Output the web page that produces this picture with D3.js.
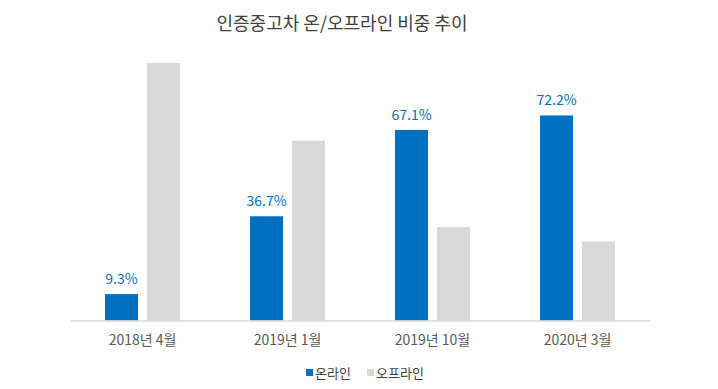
<!DOCTYPE html>
<html>
<head>
<meta charset="utf-8">
<script src="https://cdn.jsdelivr.net/npm/d3@7"></script>
<style>
  body { margin: 0; background: #fff; }
  text { font-family: "Noto Sans CJK KR", "Noto Sans", sans-serif; }
</style>
</head>
<body>
<svg id="chart" width="718" height="389"></svg>
<script>
// Data
var categories = ["2018년 4월", "2019년 1월", "2019년 10월", "2020년 3월"];
var online = [9.3, 36.7, 67.1, 72.2];
var offline = [90.7, 63.3, 32.9, 27.8];
var seriesNames = ["온라인", "오프라인"];
var colors = ["#0070c0", "#d9d9d9"];

var svg = d3.select("#chart"),
    width = +svg.attr("width"),
    height = +svg.attr("height");

var margin = {left: 70, right: 68, top: 40, bottom: 68};
var baseY = height - margin.bottom - 0.5;

// title
svg.append("text")
    .attr("x", 342)
    .attr("y", 30)
    .attr("text-anchor", "middle")
    .attr("font-size", "18px")
    .attr("fill", "#404040")
    .text("인증중고차 온/오프라인 비중 추이");

var x0 = d3.scaleBand()
    .domain(categories)
    .range([margin.left, width - margin.right])
    .padding(0);

var y = d3.scaleLinear()
    .domain([0, 100])
    .range([baseY, baseY - 284]);

var barW = 33, gap = 9;

var groups = svg.append("g").selectAll("g")
    .data(categories)
    .enter().append("g")
    .attr("transform", function(d) { return "translate(" + (x0(d) + x0.bandwidth() / 2) + ",0)"; });

// online bars
groups.append("rect")
    .attr("x", -gap / 2 - barW)
    .attr("width", barW)
    .attr("y", function(d, i) { return y(online[i]); })
    .attr("height", function(d, i) { return baseY - y(online[i]); })
    .attr("fill", colors[0]);

// offline bars
groups.append("rect")
    .attr("x", gap / 2)
    .attr("width", barW)
    .attr("y", function(d, i) { return y(offline[i]); })
    .attr("height", function(d, i) { return baseY - y(offline[i]); })
    .attr("fill", colors[1]);

// value labels on online bars
groups.append("text")
    .attr("x", -gap / 2 - barW / 2)
    .attr("y", function(d, i) { return y(online[i]) - 10; })
    .attr("text-anchor", "middle")
    .attr("font-size", "14px")
    .attr("fill", colors[0])
    .text(function(d, i) { return online[i] + "%"; });

// x axis
var xAxis = svg.append("g")
    .attr("transform", "translate(0," + baseY + ")")
    .call(d3.axisBottom(x0).tickSize(0).tickPadding(15));
xAxis.select(".domain").attr("stroke", "#d9d9d9").attr("stroke-width", 1.5);
xAxis.selectAll("text")
    .attr("font-size", "14px")
    .attr("fill", "#595959")
    .style("font-family", "\"Noto Sans CJK KR\", sans-serif");

// legend
var legend = svg.append("g").attr("transform", "translate(306,373)");
var lx = [0, 61];
seriesNames.forEach(function(name, i) {
    var g = legend.append("g").attr("transform", "translate(" + lx[i] + ",0)");
    g.append("rect").attr("x", 0).attr("y", -4).attr("width", 7).attr("height", 7).attr("fill", colors[i]);
    g.append("text")
        .attr("x", 9)
        .attr("y", 0)
        .attr("dy", "0.35em")
        .attr("font-size", "13px")
        .attr("fill", "#404040")
        .text(name);
});
</script>
</body>
</html>
